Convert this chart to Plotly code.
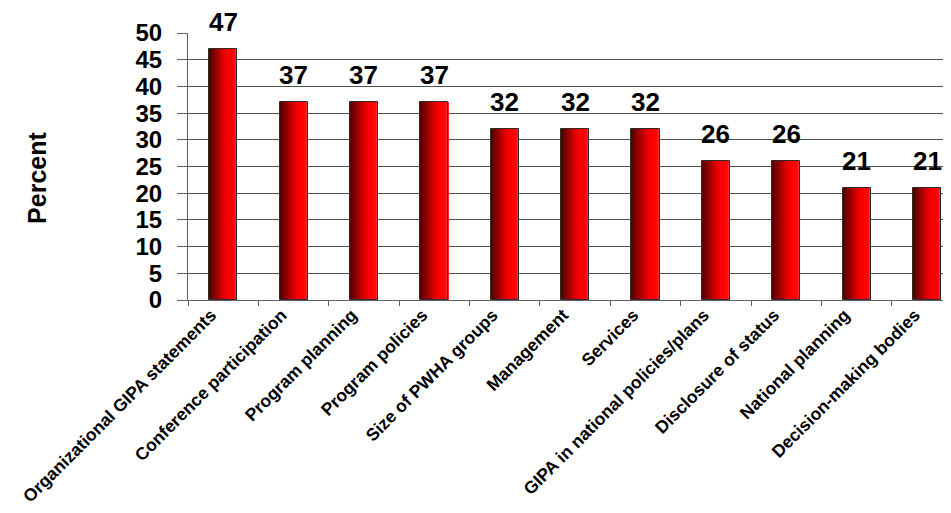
import plotly.graph_objects as go

categories = ["Organizational GIPA statements", "Conference participation", "Program planning",
              "Program policies", "Size of PWHA groups", "Management", "Services",
              "GIPA in national policies/plans", "Disclosure of status", "National planning",
              "Decision-making bodies"]
values = [47, 37, 37, 37, 32, 32, 32, 26, 26, 21, 21]
y_ticks = [0, 5, 10, 15, 20, 25, 30, 35, 40, 45, 50]

FONT = "Arial, Liberation Sans, sans-serif"

# gradient colours across the bar (left dark -> right bright)
grad = ["#5a0000", "#6e0000", "#820000", "#960000", "#aa0000", "#be0000",
        "#d20000", "#e40000", "#f20000", "#fa0000", "#ff0000", "#ff0000",
        "#ff0a0a", "#ff2a2a"]
bar_w = 0.4
n = len(grad)
sw = bar_w / n

fig = go.Figure()
for i, c in enumerate(grad):
    fig.add_trace(go.Bar(x=categories, y=values, width=sw * 1.05, offset=-bar_w / 2 + i * sw,
                         marker=dict(color=c, line=dict(width=0)), showlegend=False,
                         hoverinfo="skip"))
fig.add_trace(go.Bar(x=categories, y=values, width=bar_w, offset=-bar_w / 2,
                     marker=dict(color="rgba(0,0,0,0)", line=dict(color="#2a2a2a", width=1)),
                     showlegend=False))

for c, v in zip(categories, values):
    fig.add_annotation(x=c, y=v, text=str(v), showarrow=False, yanchor="bottom", yshift=10,
                       font=dict(family=FONT, size=26, color="black", weight="bold"))

fig.add_annotation(xref="paper", yref="paper", x=-0.198, y=0.457, text="Percent",
                   textangle=-90, showarrow=False, xanchor="center", yanchor="middle",
                   font=dict(family=FONT, size=25, color="black", weight="bold"))

fig.update_layout(
    width=943, height=505,
    margin=dict(l=180, r=0, t=25, b=213, autoexpand=False),
    paper_bgcolor="white", plot_bgcolor="white",
    barmode="overlay", bargap=0,
    font=dict(family=FONT, color="black"),
)
fig.update_xaxes(type="category", range=[-0.5, 10.34], tickson="boundaries",
                 ticks="outside", ticklen=5, tickcolor="#606060", tickwidth=1,
                 showline=True, linecolor="#606060", linewidth=1, showgrid=False,
                 automargin=False, ticklabelshift=-12, ticklabelstandoff=-3,
                 tickangle=-45, tickfont=dict(family=FONT, size=17.5, color="black", weight="bold"))
fig.update_yaxes(range=[0, 50], tickvals=y_ticks, ticks="outside", ticklen=10,
                 tickcolor="#606060", showline=True, linecolor="#606060", linewidth=1,
                 showgrid=True, gridcolor="#505050", gridwidth=1, zeroline=False,
                 automargin=False, ticklabelstandoff=10,
                 tickfont=dict(family=FONT, size=24, color="black", weight="bold"))

fig.write_html("out.html")
